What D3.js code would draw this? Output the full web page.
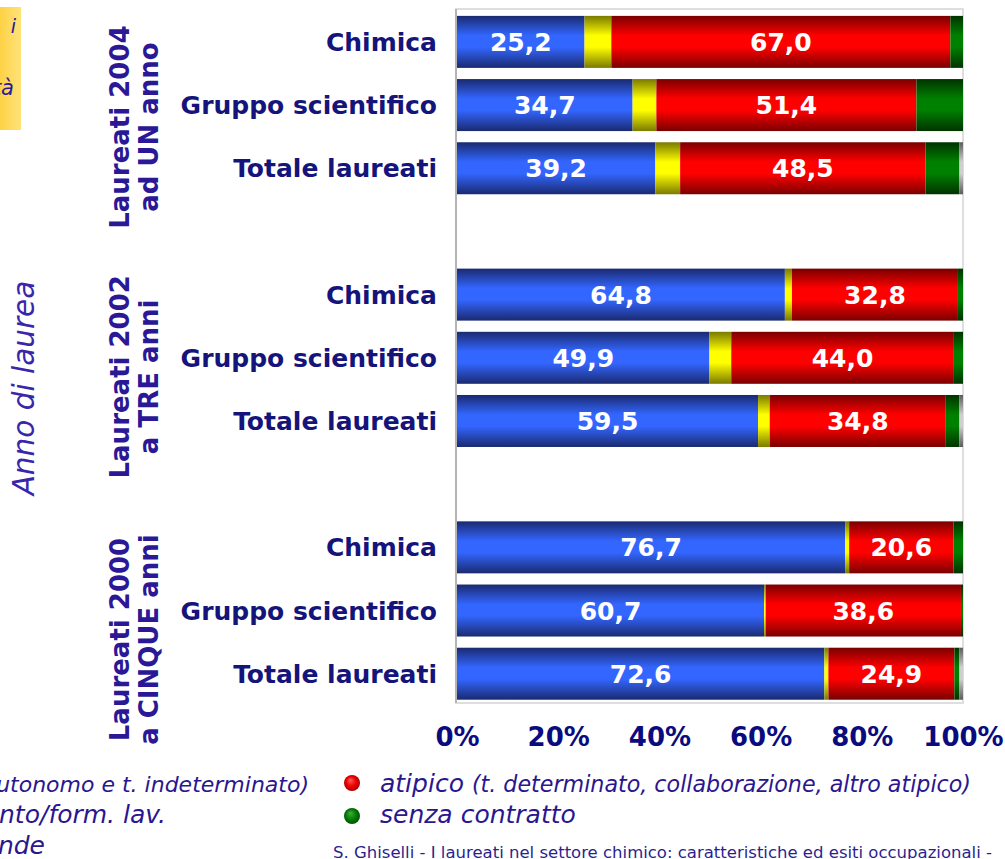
<!DOCTYPE html>
<html>
<head>
<meta charset="utf-8">
<script src="https://cdn.jsdelivr.net/npm/d3@7"></script>
<style>
  html, body { margin: 0; padding: 0; background: #ffffff; }
  svg { display: block; font-family: "DejaVu Sans", Verdana, sans-serif; }
</style>
</head>
<body>
<svg id="chart" width="1005" height="859"></svg>
<script>
// ---- data -------------------------------------------------------------
const groupLine1 = ["Laureati 2004", "Laureati 2002", "Laureati 2000"];
const groupLine2 = ["ad UN anno", "a TRE anni", "a CINQUE anni"];
const categories = ["Chimica", "Gruppo scientifico", "Totale laureati"];

// one value per row: 3 groups x 3 categories, top to bottom
const stabile        = [25.2, 34.7, 39.2, 64.8, 49.9, 59.5, 76.7, 60.7, 72.6];
const inserimento    = [ 5.3,  4.7,  4.9,  1.4,  4.3,  2.3,  0.8,  0.3,  0.8];
const atipico        = [67.0, 51.4, 48.5, 32.8, 44.0, 34.8, 20.6, 38.6, 24.9];
const senzaContratto = [ 2.5,  9.2,  6.7,  1.0,  1.8,  2.7,  1.9,  0.4,  1.0];
const nonRisponde    = [ 0.0,  0.0,  0.7,  0.0,  0.0,  0.7,  0.0,  0.0,  0.7];

const tickValues = [0, 20, 40, 60, 80, 100];
const labelledSeries = ["stabile", "atipico"];

// ---- layout -----------------------------------------------------------
const svg = d3.select("#chart");
const plot = { left: 457, right: 963, top: 9, bottom: 703 };
const navy = "#14147a";
const indigo = "#2a1896";

const keys = ["stabile", "inserimento", "atipico", "senza", "nonrisp"];
const seriesValues = { stabile, inserimento, atipico, senza: senzaContratto, nonrisp: nonRisponde };

// rows with an empty slot between groups
const rows = [];
const slots = [];
groupLine1.forEach((g, gi) => {
  categories.forEach((c, ci) => {
    const idx = gi * categories.length + ci;
    const row = { id: `r${idx}`, group: gi, category: c };
    keys.forEach(k => row[k] = seriesValues[k][idx]);
    rows.push(row);
    slots.push(row.id);
  });
  if (gi < groupLine1.length - 1) slots.push(`gap${gi}`);
});

const x = d3.scaleLinear().domain([0, 100]).range([plot.left, plot.right]);
const y = d3.scaleBand().domain(slots).range([10.2, 705.4]).paddingInner(0.177).paddingOuter(0.09);

// ---- gradients --------------------------------------------------------
const defs = svg.append("defs");
const tube = {
  stabile:     ["#1a2a70", "#3366ff"],
  inserimento: ["#7a7a00", "#ffff00"],
  atipico:     ["#7a0000", "#ff0000"],
  senza:       ["#003300", "#008000"],
  nonrisp:     ["#5a5a5a", "#cfcfcf"]
};
keys.forEach(k => {
  const g = defs.append("linearGradient").attr("id", `g-${k}`)
    .attr("x1", 0).attr("y1", 0).attr("x2", 0).attr("y2", 1);
  [[0, 0], [0.38, 1], [0.6, 1], [1, 0]].forEach(([o, i]) =>
    g.append("stop").attr("offset", o).attr("stop-color", tube[k][i]));
});
const gold = defs.append("linearGradient").attr("id", "g-gold");
gold.append("stop").attr("offset", 0).attr("stop-color", "#fcc52a");
gold.append("stop").attr("offset", 0.7).attr("stop-color", "#fdcf3c");
gold.append("stop").attr("offset", 1).attr("stop-color", "#ffe27a");
function ball(id, hi, mid, lo) {
  const r = defs.append("radialGradient").attr("id", id)
    .attr("cx", 0.5).attr("cy", 0.5).attr("r", 0.55).attr("fx", 0.38).attr("fy", 0.3);
  r.append("stop").attr("offset", 0).attr("stop-color", hi);
  r.append("stop").attr("offset", 0.55).attr("stop-color", mid);
  r.append("stop").attr("offset", 1).attr("stop-color", lo);
}
ball("ball-red", "#ff6060", "#ee0000", "#a00000");
ball("ball-green", "#40b040", "#058005", "#004a00");

// ---- plot frame -------------------------------------------------------
svg.append("rect")
  .attr("x", plot.left - 1).attr("y", plot.top)
  .attr("width", plot.right - plot.left + 1).attr("height", plot.bottom - plot.top)
  .attr("fill", "none").attr("stroke", "#d4d4d4").attr("stroke-width", 1.5);
svg.append("line")
  .attr("x1", plot.left - 1).attr("x2", plot.left - 1)
  .attr("y1", plot.top).attr("y2", plot.bottom)
  .attr("stroke", "#b4b4b4").attr("stroke-width", 2);

// ---- stacked bars -----------------------------------------------------
const stacked = d3.stack().keys(keys)(rows);
const layers = svg.append("g").selectAll("g").data(stacked).join("g")
  .attr("fill", d => `url(#g-${d.key})`);
layers.selectAll("rect").data(d => d.filter(s => s[1] - s[0] > 0)).join("rect")
  .attr("x", d => x(d[0]))
  .attr("y", d => y(d.data.id))
  .attr("width", d => x(d[1]) - x(d[0]))
  .attr("height", y.bandwidth());

// value labels
const fmt = v => d3.format(".1f")(v).replace(".", ",");
const labels = svg.append("g")
  .attr("fill", "#ffffff").attr("font-weight", "bold").attr("font-size", 25)
  .attr("text-anchor", "middle");
stacked.filter(s => labelledSeries.includes(s.key)).forEach(s => {
  labels.selectAll(null).data(s).join("text")
    .attr("x", d => (x(d[0]) + x(d[1])) / 2)
    .attr("y", d => y(d.data.id) + y.bandwidth() / 2)
    .attr("dy", "0.36em")
    .text(d => fmt(d[1] - d[0]));
});

// category labels
svg.append("g").selectAll("text").data(rows).join("text")
  .attr("x", 437)
  .attr("y", d => y(d.id) + y.bandwidth() / 2)
  .attr("dy", "0.36em")
  .attr("text-anchor", "end")
  .attr("font-weight", "bold").attr("font-size", 25)
  .attr("fill", navy)
  .text(d => d.category);

// group labels (rotated, two lines)
const groupShift = [22, 19, 29];
groupLine1.forEach((g, gi) => {
  const mid = rows[gi * 3 + 1];
  const cy = y(mid.id) + y.bandwidth() / 2 + groupShift[gi];
  [[g, 129], [groupLine2[gi], 157.5]].forEach(([t, bx]) => {
    svg.append("text")
      .attr("transform", `translate(${bx},${cy}) rotate(-90)`)
      .attr("text-anchor", "middle")
      .attr("font-weight", "bold").attr("font-size", 26)
      .attr("fill", indigo)
      .text(t);
  });
});

// rotated axis title
svg.append("text")
  .attr("transform", "translate(34,388) rotate(-90)")
  .attr("text-anchor", "middle")
  .attr("font-style", "italic").attr("font-size", 29.5)
  .attr("fill", "#3a26aa")
  .text("Anno di laurea");

// ---- x axis -----------------------------------------------------------
const axis = svg.append("g")
  .attr("transform", `translate(0,${plot.bottom})`)
  .call(d3.axisBottom(x).tickValues(tickValues).tickFormat(d => d + "%")
    .tickSize(0).tickPadding(25));
axis.select(".domain").remove();
axis.selectAll("text")
  .attr("font-family", "DejaVu Sans, Verdana, sans-serif")
  .attr("font-size", 26).attr("font-weight", "bold").attr("fill", "#0b0b80");

// ---- legend -----------------------------------------------------------
const legendText = "#2a168f";
const leg = svg.append("g").attr("fill", legendText).attr("font-style", "italic");

// left column (partly outside the page)
const l1 = leg.append("text").attr("x", 309).attr("y", 792).attr("text-anchor", "end");
l1.append("tspan").attr("font-size", 25).text("stabile ");
l1.append("tspan").attr("font-size", 22).text("(autonomo e t. indeterminato)");
leg.append("text").attr("x", 166).attr("y", 823).attr("text-anchor", "end")
  .attr("font-size", 25).text("inserimento/form. lav.");
leg.append("text").attr("x", 45).attr("y", 854).attr("text-anchor", "end")
  .attr("font-size", 25).text("non risponde");

// right column
svg.append("circle").attr("cx", 352).attr("cy", 783).attr("r", 8).attr("fill", "url(#ball-red)");
svg.append("circle").attr("cx", 352).attr("cy", 816).attr("r", 8).attr("fill", "url(#ball-green)");
const r1 = leg.append("text").attr("x", 380).attr("y", 792);
r1.append("tspan").attr("font-size", 25).text("atipico ");
r1.append("tspan").attr("font-size", 22.2).text("(t. determinato, collaborazione, altro atipico)");
leg.append("text").attr("x", 380).attr("y", 823).attr("font-size", 25).text("senza contratto");

// footer
svg.append("text")
  .attr("x", 333).attr("y", 858)
  .attr("font-size", 16.5).attr("fill", "#2b1f8f")
  .text("S. Ghiselli - I laureati nel settore chimico: caratteristiche ed esiti occupazionali -");

// ---- note box (top left, partly outside the page) ----------------------
svg.append("rect").attr("x", -60).attr("y", 7).attr("width", 81).attr("height", 123)
  .attr("fill", "url(#g-gold)");
const note = svg.append("g").attr("fill", "#2a1896").attr("font-style", "italic")
  .attr("text-anchor", "end");
const n1 = note.append("text").attr("y", 33).attr("font-size", 19);
n1.append("tspan").attr("x", -2).text("per");
n1.append("tspan").attr("x", 16).text("i");
note.append("text").attr("x", 14).attr("y", 95).attr("font-size", 21).text("università");
</script>
</body>
</html>
